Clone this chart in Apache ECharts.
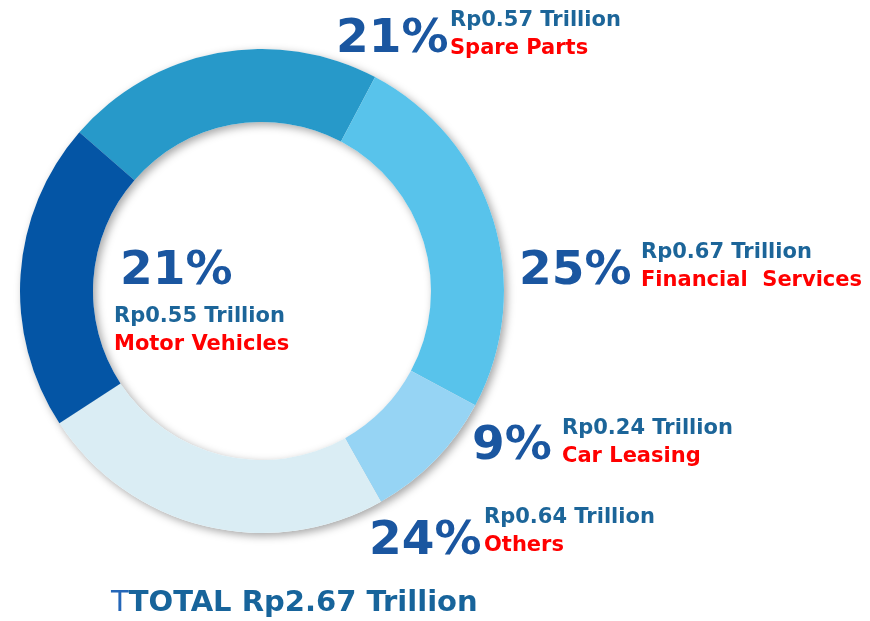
<!DOCTYPE html>
<html>
<head>
<meta charset="utf-8">
<style>
  html, body { margin: 0; padding: 0; background: #fff; }
  #chart { width: 870px; height: 621px; }
</style>
<script src="https://cdn.jsdelivr.net/npm/echarts@6/dist/echarts.min.js"></script>
</head>
<body>
<div id="chart"></div>
<script>
  // segments, clockwise from the upper left
  var segments = ['Spare Parts', 'Financial  Services', 'Car Leasing', 'Others', 'Motor Vehicles'];
  var revenue = [0.57, 0.67, 0.24, 0.64, 0.55]; // Rp trillion
  var percents = ['21%', '25%', '9%', '24%', '21%'];
  var colors = ['#2799c9', '#58c3eb', '#96d4f4', '#daedf4', '#0455a5'];

  // where each label sits (left x, middle y)
  var pctPos = [[336, 40], [519, 272], [472, 447], [369, 542], [120, 272]];
  var txtPos = [[450, 35], [641, 267], [562, 443], [484, 532], [114, 331]];

  var total = 0;
  for (var i = 0; i < revenue.length; i++) total += revenue[i];

  var ringData = [];
  for (var i = 0; i < segments.length; i++) {
    ringData.push({ name: segments[i], value: revenue[i], itemStyle: { color: colors[i] } });
  }

  var myChart = echarts.init(document.getElementById('chart'));

  myChart.setOption({
    animation: false,
    backgroundColor: '#fff',
    title: {
      left: 106,
      top: 584,
      text: '{a|T}{b|TOTAL Rp' + total.toFixed(2) + ' Trillion}',
      textStyle: {
        rich: {
          a: { fontFamily: 'DejaVu Sans', fontSize: 29, fontWeight: 'normal', color: '#2466b8' },
          b: { fontFamily: 'DejaVu Sans', fontSize: 29, fontWeight: 'bold', color: '#17649b' }
        }
      }
    },
    series: [
      // white ring underneath: casts the soft shadow, carries amount / name labels
      {
        type: 'pie',
        center: [262, 291],
        radius: [169, 242],
        startAngle: 139,
        avoidLabelOverlap: false,
        silent: true,
        itemStyle: {
          color: '#fff',
          shadowColor: 'rgba(0,0,0,0.35)',
          shadowBlur: 8,
          shadowOffsetX: 3,
          shadowOffsetY: 3
        },
        labelLine: { show: false },
        label: {
          show: true,
          formatter: function (p) {
            return '{a|Rp' + revenue[p.dataIndex].toFixed(2) + ' Trillion}\n{n|' + segments[p.dataIndex] + '}';
          },
          rich: {
            a: { fontFamily: 'DejaVu Sans', fontSize: 21, fontWeight: 'bold', color: '#1c6599', lineHeight: 28 },
            n: { fontFamily: 'DejaVu Sans', fontSize: 21, fontWeight: 'bold', color: '#ff0000', lineHeight: 28 }
          }
        },
        labelLayout: function (p) {
          return { x: txtPos[p.dataIndex][0], y: txtPos[p.dataIndex][1], align: 'left', verticalAlign: 'middle' };
        },
        data: segments.map(function (s, i) { return { name: s, value: revenue[i] }; })
      },
      // coloured ring with percentages
      {
        type: 'pie',
        center: [262, 291],
        radius: [169, 242],
        startAngle: 139,
        avoidLabelOverlap: false,
        silent: true,
        labelLine: { show: false },
        label: {
          show: true,
          formatter: function (p) { return percents[p.dataIndex]; },
          fontFamily: 'DejaVu Sans',
          fontSize: 47,
          fontWeight: 'bold',
          color: '#1a56a0'
        },
        labelLayout: function (p) {
          return { x: pctPos[p.dataIndex][0], y: pctPos[p.dataIndex][1], align: 'left', verticalAlign: 'middle' };
        },
        data: ringData
      }
    ]
  });
</script>
</body>
</html>
